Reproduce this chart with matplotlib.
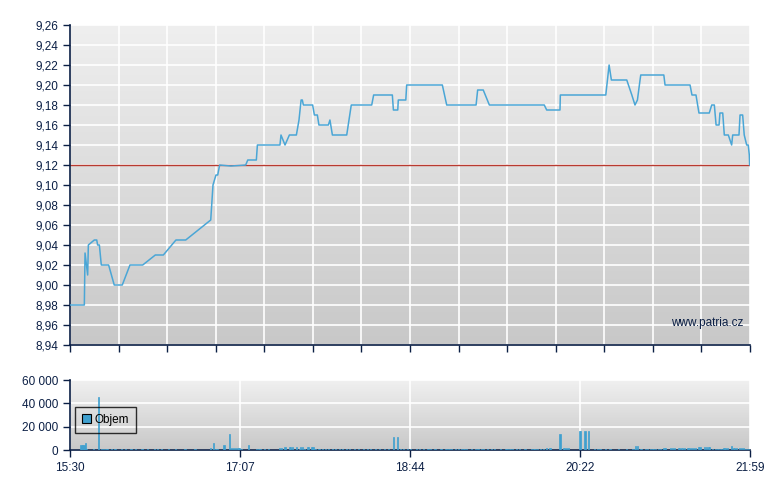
import numpy as np
import matplotlib
matplotlib.use("Agg")
import matplotlib.pyplot as plt

plt.rcParams['font.family'] = ['Liberation Sans', 'DejaVu Sans']

# minutes after 15:30 and price
price_min = [0.4, 8.2, 8.6, 10.1, 10.5, 13.9, 15.3, 15.8, 16.8, 17.9, 22.1, 25.3, 29.9,
             34.3, 41.6, 48.8, 53.4, 60.6, 66.2, 80.5, 81.8, 83.5, 84.5, 85.6, 92.1,
             100.5, 101.7, 106.6, 107.2, 120.1, 120.7, 123.0, 125.5, 129.5, 131.0,
             132.2, 132.9, 133.5, 138.8, 139.8, 141.5, 142.4, 147.8, 148.7, 150.1,
             158.3, 160.9, 172.6, 173.7, 184.4, 185.0, 187.5, 187.8, 192.1, 192.6,
             213.0, 215.5, 232.3, 233.2, 236.4, 239.9, 271.3, 272.7, 280.3, 280.5,
             306.5, 308.4, 309.7, 318.5, 321.4, 322.3, 323.2, 324.6, 326.1, 326.5,
             339.7, 340.4, 354.7, 355.8, 358.1, 359.8, 365.7, 367.1, 368.6, 369.6,
             371.3, 371.8, 373.4, 374.3, 376.6, 378.5, 379.1, 382.7, 383.3, 384.8,
             385.7, 387.1, 388.0, 388.6, 388.8]
price_val = [8.98, 8.98, 9.032, 9.01, 9.04, 9.045, 9.045, 9.04, 9.04, 9.02, 9.02, 9.00, 9.00,
             9.02, 9.02, 9.03, 9.03, 9.045, 9.045, 9.065, 9.10, 9.11, 9.11, 9.12, 9.119,
             9.12, 9.125, 9.125, 9.14, 9.14, 9.15, 9.14, 9.15, 9.15, 9.165,
             9.185, 9.185, 9.18, 9.18, 9.17, 9.17, 9.16, 9.16, 9.165, 9.15,
             9.15, 9.18, 9.18, 9.19, 9.19, 9.175, 9.175, 9.185, 9.185, 9.20,
             9.20, 9.18, 9.18, 9.195, 9.195, 9.18, 9.18, 9.175, 9.175, 9.19,
             9.19, 9.22, 9.205, 9.205, 9.19, 9.185, 9.18, 9.185, 9.205, 9.21,
             9.21, 9.20, 9.20, 9.19, 9.19, 9.172, 9.172, 9.18, 9.18, 9.16,
             9.16, 9.172, 9.172, 9.15, 9.15, 9.14, 9.15, 9.15, 9.17, 9.17,
             9.15, 9.14, 9.14, 9.13, 9.12]
prev_close = 9.12

# volume bars, minutes after 15:30
vol_min = [6.3, 7.2, 8.0, 8.8, 9.7, 13.7, 16.2, 17.9, 18.9, 20.6,
           21.7, 23.5, 25.2, 26.3, 29.2, 31.5, 34.9, 37.2, 41.2, 44.6,
           48.6, 50.3, 52.6, 56.1, 60.6, 65.8, 71.5, 80.3, 82.0, 83.0,
           84.1, 88.1, 91.5, 92.5, 93.7, 94.8, 96.1, 97.1, 98.0, 102.0,
           106.8, 107.7, 108.7, 111.0, 113.8, 120.1, 121.1, 123.0, 125.5, 126.4,
           127.4, 129.7, 131.2, 132.1, 133.0, 133.9, 135.8, 136.7, 137.9, 139.0,
           139.8, 140.7, 141.9, 143.0, 144.2, 146, 148, 150, 152, 154,
           156, 158, 160, 163, 165, 168, 170, 172, 175, 177,
           180, 182, 184.8, 187.1, 189, 191, 193, 195, 198, 200,
           202.1, 204.8, 206.0, 208.8, 211.7, 212.6, 215.1, 216.8, 218.5, 220.3,
           222.0, 223.7, 225.4, 227.0, 229.8, 231.7, 233.4, 235.2, 236.3, 239.1,
           240.9, 243.1, 246.0, 248.9, 250.0, 251.7, 253.4, 255.5, 257.4, 260.3,
           264.1, 264.9, 266.0, 267.7, 268.9, 270.8, 272.7, 274.6, 280.3, 282.6,
           284.2, 285.1, 291.4, 292.2, 294.6, 296.5, 299.8, 301.5, 303.2, 306.1,
           308.9, 313.7, 318.5, 321.7, 322.8, 323.5, 324.4, 326.1, 327.2, 329,
           330.5, 332, 333.5, 335, 336.5, 338, 339.8, 340.7, 343.3, 344.4,
           345.6, 347.9, 348.7, 350.1, 351.3, 353.0, 354.1, 355.3, 356.7, 357.9,
           359.3, 360.4, 363.0, 363.9, 365.0, 366.1, 367.3, 369.0, 370.7, 372.4,
           373.6, 374.7, 375.9, 378.2, 379.3, 380.2, 381.4, 382.9, 384.2, 385.3,
           386.4, 387.6, 388.7]
vol_val = [4300, 4300, 4300, 6000, 1000, 1000, 45500, 1000, 1000, 1000,
           800, 800, 800, 800, 800, 800, 800, 800, 800, 800,
           800, 800, 800, 800, 800, 800, 800, 2000, 6300, 1000,
           1000, 4300, 13700, 1500, 1500, 1500, 1800, 1800, 1000, 4300,
           1000, 1000, 1000, 800, 800, 1500, 1500, 2600, 2600, 2600,
           2600, 2600, 1000, 2600, 2600, 1000, 2600, 2600, 2600, 2600,
           1000, 1000, 1000, 1000, 1000, 900, 900, 900, 900, 900,
           900, 900, 900, 900, 900, 900, 900, 900, 900, 900,
           900, 900, 11200, 11200, 900, 900, 900, 900, 900, 900,
           900, 900, 900, 900, 900, 900, 900, 900, 900, 900,
           900, 900, 900, 900, 900, 900, 900, 900, 900, 900,
           900, 900, 900, 1200, 1200, 900, 900, 900, 900, 900,
           1200, 1200, 1200, 1200, 1200, 1200, 2000, 2000, 13700, 2000,
           2000, 2000, 16300, 16300, 16300, 16300, 800, 800, 800, 900,
           900, 900, 900, 900, 900, 3400, 3400, 1200, 1200, 1000,
           1000, 1000, 1000, 1000, 1000, 1000, 2000, 2000, 2000, 2000,
           2000, 2000, 2000, 2000, 2000, 2000, 2000, 2000, 2000, 2000,
           2900, 2900, 2600, 2600, 2600, 2600, 1200, 1200, 1200, 1200,
           2000, 2000, 2000, 3700, 2000, 2000, 1500, 2000, 2000, 2000,
           1000, 1000, 1000]

session_len = 389
vol_labels = ['15:30', '17:07', '18:44', '20:22', '21:59']
price_ticks = [8.94, 8.96, 8.98, 9.00, 9.02, 9.04, 9.06, 9.08, 9.10, 9.12, 9.14,
               9.16, 9.18, 9.20, 9.22, 9.24, 9.26]
vol_ticks = [0, 20000, 40000, 60000]

navy = '#0b1f45'
line_blue = '#4aa6d6'
bar_blue = '#3fa0cf'


def gradient(ax, top, bottom):
    c1 = np.array(matplotlib.colors.to_rgb(top))
    c2 = np.array(matplotlib.colors.to_rgb(bottom))
    t = np.linspace(0, 1, 256)[:, None]
    img = (c1 * (1 - t) + c2 * t)[:, None, :]
    ax.imshow(img, extent=[0, 1, 0, 1], transform=ax.transAxes, aspect='auto',
              zorder=0, interpolation='bilinear')


def style_axes(ax):
    ax.set_axisbelow(True)
    for s in ['top', 'right']:
        ax.spines[s].set_visible(False)
    for s in ['left', 'bottom']:
        ax.spines[s].set_color(navy)
        ax.spines[s].set_linewidth(1.2)
    ax.tick_params(colors=navy, labelsize=8.5, length=5, width=1, direction='out')
    ax.grid(True, color='white', linewidth=1.2)


fig = plt.figure(figsize=(7.8, 4.9), dpi=100)

# price chart
ax = fig.add_axes([70 / 780, 1 - 345 / 490, 680 / 780, 320 / 490])
gradient(ax, '#efefef', '#c8c8c8')
style_axes(ax)
ax.plot(price_min, price_val, color=line_blue, linewidth=1.1, zorder=3)
ax.axhline(prev_close, color='#b83a30', linewidth=1.0, zorder=2)
ax.set_xlim(0, session_len)
ax.set_ylim(8.94, 9.26)
ax.set_xticks(np.linspace(0, session_len, 15))
ax.set_xticklabels([])
ax.set_yticks(price_ticks)
ax.set_yticklabels([f"{v:.2f}".replace('.', ',') for v in price_ticks])
ax.text(0.99, 0.07, 'www.patria.cz', transform=ax.transAxes, ha='right', va='center',
        color=navy, fontsize=8.5, zorder=4)

# volume chart
axv = fig.add_axes([70 / 780, 1 - 450 / 490, 680 / 780, 70 / 490])
gradient(axv, '#f0f0f0', '#c8c8c8')
style_axes(axv)
axv.bar(vol_min, vol_val, width=0.6, color=bar_blue, edgecolor=bar_blue,
        linewidth=0.5, zorder=3, label='Objem')
axv.set_xlim(0, session_len)
axv.set_ylim(0, 60000)
axv.set_xticks(np.linspace(0, session_len, 5))
axv.set_xticklabels(vol_labels)
axv.set_yticks(vol_ticks)
axv.set_yticklabels([f"{v:,}".replace(',', ' ') for v in vol_ticks])
leg = axv.legend(loc='center left', bbox_to_anchor=(0.007, 0.43), frameon=True,
                 fontsize=8.5, handlelength=0.8, handleheight=0.8, handletextpad=0.3,
                 borderpad=0.6, borderaxespad=0, fancybox=False)
leg.get_frame().set_facecolor('none')
leg.get_frame().set_edgecolor('black')
leg.get_frame().set_linewidth(1)
leg.legend_handles[0].set_edgecolor('black')
leg.legend_handles[0].set_linewidth(0.8)
for t in leg.get_texts():
    t.set_color('black')

fig.savefig('out.png', dpi=100)
